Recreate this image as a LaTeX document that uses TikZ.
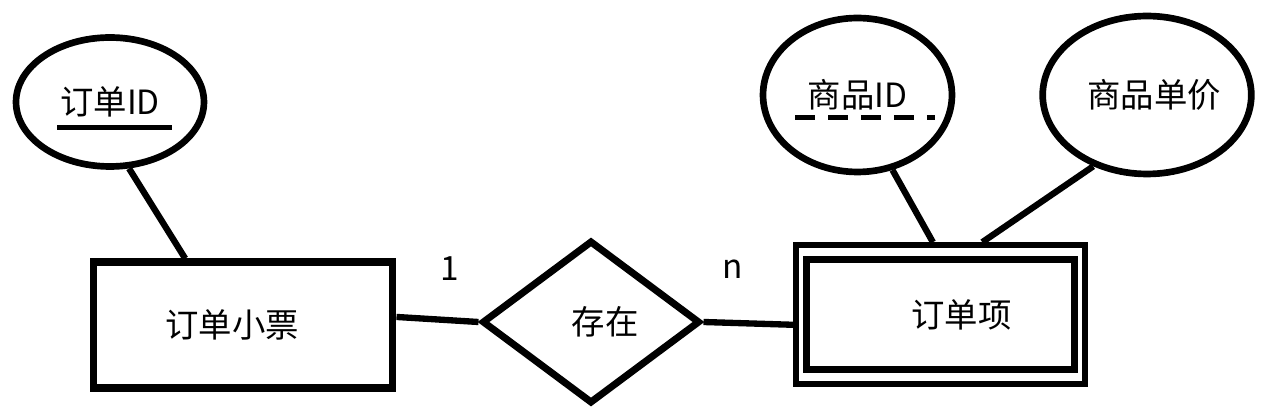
\documentclass[tikz,border=0pt]{standalone}
\usepackage{fontspec}
\usepackage{tikz}
\usetikzlibrary{shapes.geometric}
\newfontfamily\cjkfont{Noto Sans CJK SC}

\begin{document}
\begin{tikzpicture}[x=0.02cm, y=0.02cm,
	every node/.style={font=\cjkfont\fontsize{19}{23}\selectfont},
	entity/.style={draw, rectangle, line width=4pt, inner sep=0pt},
	attr/.style={draw, ellipse, line width=3.8pt, inner sep=0pt},
	relation/.style={draw, diamond, line width=4pt, inner sep=0pt},
	link/.style={line width=3.6pt},
	card/.style={inner sep=0pt}]
	%\draw[help lines] (0,0) grid[step=50] (1262,416);
	\useasboundingbox (0,0) rectangle (1262,416);
	\node[attr, minimum width=3.76cm, minimum height=2.58cm] (oid) at (110,314) {订单ID};
	\node[entity, minimum width=6cm, minimum height=2.52cm] (ticket) at (243,91) {订单小票\hspace*{0.44cm}};
	\node[relation, minimum width=4.36cm, minimum height=3.26cm] (exists) at (591,94) {\hspace*{0.56cm}存在};
	\node[entity, line width=4pt, minimum width=5.38cm, minimum height=2.2cm] (item) at (940.5,101.5) {\hspace*{0.84cm}订单项};
	\node[entity, line width=3.2pt, minimum width=5.78cm, minimum height=2.78cm] (itemout) at (item.center) {};
	\node[attr, minimum width=3.78cm, minimum height=3.08cm] (pid) at (857.5,321) {商品ID};
	\node[attr, minimum width=4.08cm, minimum height=3.16cm] (price) at (1147,321) {\hspace*{0.28cm}商品单价};
	% keys
	\draw[line width=0.1cm] ([xshift=-1.06cm, yshift=-0.52cm]oid.center) -- ++(2.3cm,0);
	\draw[line width=0.1cm, dash pattern=on 0.4cm off 0.26cm] ([xshift=-1.25cm, yshift=-0.46cm]pid.center) -- ++(2.8cm,0);
	% links
	\draw[link] (oid.-74) -- (ticket.131);
	\draw[link] (ticket.3) -- node[card, pos=0.65, above=0.74cm] (one) {1} (exists.west);
	\draw[link] (exists.east) -- node[card, pos=0.32, above=0.82cm] (many) {n} (itemout.184);
	\draw[link] (pid.-65) -- (itemout.96);
	\draw[link] (price.233) -- (itemout.60);
\end{tikzpicture}
\end{document}
